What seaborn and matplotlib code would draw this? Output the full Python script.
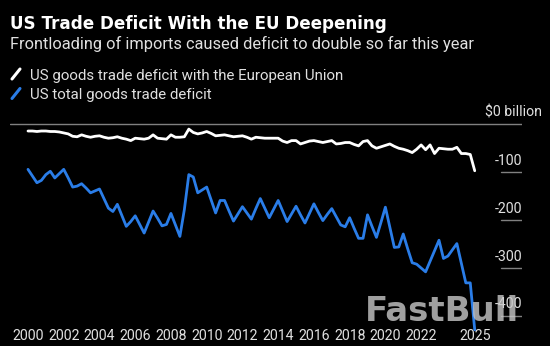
import numpy as np
import pandas as pd
import matplotlib
matplotlib.use("Agg")
import matplotlib.pyplot as plt
import matplotlib.transforms as mtrans
from matplotlib.lines import Line2D
import seaborn as sns

# ---------------- data (quarterly, $ billion) ----------------
quarters = pd.period_range("2000Q1", "2025Q1", freq="Q")

eu_deficit = [
    -14, -14, -15, -14,   # 2000
    -14, -15, -15, -16,   # 2001
    -18, -20, -25, -26,   # 2002
    -22, -25, -27, -25,   # 2003
    -24, -27, -29, -28,   # 2004
    -26, -29, -31, -34,   # 2005
    -29, -30, -31, -29,   # 2006
    -22, -29, -30, -31,   # 2007
    -22, -27, -27, -26,   # 2008
    -10, -17, -20, -18,   # 2009
    -15, -19, -24, -23,   # 2010
    -22, -24, -26, -25,   # 2011
    -24, -27, -31, -27,   # 2012
    -28, -29, -29, -29,   # 2013
    -29, -35, -38, -34,   # 2014
    -34, -41, -38, -35,   # 2015
    -34, -36, -38, -36,   # 2016
    -34, -41, -40, -38,   # 2017
    -38, -42, -45, -36,   # 2018
    -34, -45, -50, -47,   # 2019
    -44, -41, -46, -50,   # 2020
    -52, -55, -59, -52,   # 2021
    -43, -53, -43, -61,   # 2022
    -50, -51, -52, -52,   # 2023
    -48, -61, -61, -63,   # 2024
    -97,                  # 2025
]

total_deficit = [
    -94, -108, -122, -117,    # 2000
    -105, -98, -112, -103,    # 2001
    -94, -112, -131, -129,    # 2002
    -124, -133, -143, -139,   # 2003
    -135, -155, -175, -182,   # 2004
    -167, -190, -213, -203,   # 2005
    -191, -209, -227, -204,   # 2006
    -181, -196, -212, -209,   # 2007
    -186, -210, -234, -178,   # 2008
    -105, -110, -143, -137,   # 2009
    -131, -158, -185, -159,   # 2010
    -159, -181, -202, -187,   # 2011
    -172, -185, -198, -176,   # 2012
    -155, -175, -195, -177,   # 2013
    -159, -181, -203, -187,   # 2014
    -171, -189, -206, -186,   # 2015
    -166, -184, -201, -188,   # 2016
    -176, -193, -210, -214,   # 2017
    -195, -217, -238, -238,   # 2018
    -189, -213, -236, -205,   # 2019
    -173, -215, -257, -256,   # 2020
    -229, -260, -289, -292,   # 2021
    -300, -308, -286, -264,   # 2022
    -242, -280, -275, -262,   # 2023
    -249, -290, -331, -331,   # 2024
    -429,                     # 2025
]

xtick_years = [2000, 2002, 2004, 2006, 2008, 2010, 2012, 2014, 2016, 2018, 2020, 2022, 2025]
ytick_values = [-100, -200, -300, -400]
ytick_labels = ["-100", "-200", "-300", "-400"]

series_names = ["US goods trade deficit with the European Union", "US total goods trade deficit"]
title = "US Trade Deficit With the EU Deepening"
subtitle = "Frontloading of imports caused deficit to double so far this year"

year_frac = [p.year + (p.quarter - 1) / 4 for p in quarters]
df = pd.DataFrame({
    "t": year_frac * 2,
    "value": eu_deficit + total_deficit,
    "series": [series_names[0]] * len(year_frac) + [series_names[1]] * len(year_frac),
})

WHITE = "#ffffff"
BLUE = "#2a7de8"
GRID = "#808080"
TXT = "#e0e0e0"
NARROW = ["Roboto", "DejaVu Sans"]

sns.set_style("dark")
plt.rcParams["font.family"] = ["DejaVu Sans"]
plt.rcParams["axes.facecolor"] = "black"
plt.rcParams["figure.facecolor"] = "black"

W, H = 550, 346
fig = plt.figure(figsize=(W / 100, H / 100), dpi=100)
ax = fig.add_axes([10 / W, (H - 321) / H, 512 / W, 201 / H])
ax.set_facecolor("black")

sns.lineplot(data=df, x="t", y="value", hue="series",
             palette={series_names[0]: WHITE, series_names[1]: BLUE},
             linewidth=2.0, legend=False, ax=ax, clip_on=False, zorder=3)
for ln in ax.lines:
    ln.set_solid_joinstyle("round")
    ln.set_solid_capstyle("round")

ax.set_xlim(1998.993, 2027.645)
ax.set_ylim(-410.6, 9.0)
for s in ax.spines.values():
    s.set_visible(False)
ax.grid(False)
ax.set_xlabel("")
ax.set_ylabel("")

ax.set_xticks(xtick_years)
ax.set_xticklabels([str(y) for y in xtick_years], family=NARROW)
ax.tick_params(axis="x", direction="in", length=3.6, width=0.8, color="#bbbbbb",
               pad=6, labelsize=10.2, labelcolor=TXT)
ax.set_yticks([])

# zero line across, short lines under right labels
ax.axhline(0, color=GRID, lw=1.0, zorder=1)
for v in ytick_values:
    ax.axhline(v, xmin=0.959, xmax=1.0, color=GRID, lw=1.0, zorder=1)

blend = mtrans.blended_transform_factory(ax.transAxes, ax.transData)
lab_tr = mtrans.offset_copy(blend, fig=fig, x=0, y=7.5, units="dots")
for v, lab in zip(ytick_values, ytick_labels):
    ax.text(1.0, v, lab, transform=lab_tr, ha="right", va="baseline",
            fontsize=10.2, color=TXT, clip_on=False, family=NARROW, zorder=5)
ax.text(1.0 + 20 / 512, 0, "$0 billion", transform=lab_tr,
        ha="right", va="baseline", fontsize=10.2, color=TXT, clip_on=False, family=NARROW)

# titles
fig.text(10 / W, 1 - 29 / H, title, fontsize=12.1, fontweight="bold", color=WHITE, va="baseline", ha="left")
fig.text(10 / W, 1 - 49 / H, subtitle, fontsize=11.8, color=TXT, va="baseline", ha="left",
         family=NARROW)

# legend
for i, (name, col) in enumerate(zip(series_names, [WHITE, BLUE])):
    yb = 80 + 19.5 * i
    fig.add_artist(Line2D([12 / W, 20 / W], [1 - (yb - 1) / H, 1 - (yb - 11) / H],
                          color=col, lw=2.2, solid_capstyle="round"))
    fig.text(30 / W, 1 - yb / H, name, fontsize=10.8, color=TXT, va="baseline", ha="left",
             family=NARROW)

# watermark as in reference
fig.text(365 / W, 1 - 321 / H, "FastBull", fontsize=24.5, fontweight="bold",
         color="#c8c8c8", alpha=0.8, va="baseline", ha="left", zorder=0)

fig.savefig("out.png", dpi=100, facecolor="black")
